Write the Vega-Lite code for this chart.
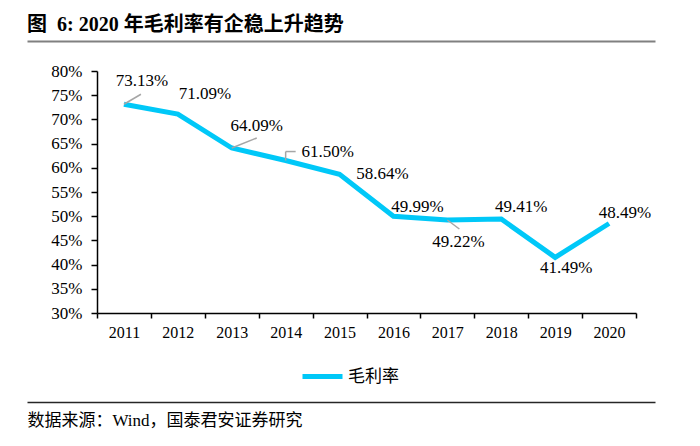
{
  "$schema": "https://vega.github.io/schema/vega-lite/v6.json",
  "padding": {"left": 27, "top": 15, "right": 5, "bottom": 5},
  "background": "white",
  "spacing": 14,
  "title": {
    "text": "图\u00a0\u00a06: 2020 年毛利率有企稳上升趋势",
    "anchor": "start",
    "frame": "bounds",
    "fontSize": 20,
    "fontWeight": "bold",
    "font": "Liberation Serif, Noto Sans CJK SC",
    "color": "#000000",
    "offset": 6
  },
  "resolve": {"scale": {"color": "independent"}, "legend": {"color": "independent"}},
  "config": {
    "font": "Liberation Serif, Noto Sans CJK SC",
    "view": {"stroke": null},
    "text": {"font": "Liberation Serif", "fontSize": 17, "color": "#000000"},
    "axis": {
      "labelFont": "Liberation Serif",
      "labelColor": "#000000",
      "domainColor": "#000000",
      "tickColor": "#000000",
      "domainWidth": 1.5,
      "tickWidth": 1.5,
      "grid": false,
      "title": null
    }
  },
  "data": {
    "values": [
      {"year": "2011", "value": 0.7313},
      {"year": "2012", "value": 0.7109},
      {"year": "2013", "value": 0.6409},
      {"year": "2014", "value": 0.6150},
      {"year": "2015", "value": 0.5864},
      {"year": "2016", "value": 0.4999},
      {"year": "2017", "value": 0.4922},
      {"year": "2018", "value": 0.4941},
      {"year": "2019", "value": 0.4149},
      {"year": "2020", "value": 0.4849}
    ]
  },
  "vconcat": [
    {
      "width": 558,
      "height": 7,
      "mark": {"type": "rule", "strokeOpacity": 0, "strokeWidth": 0},
      "encoding": {
        "x": {
          "field": "year",
          "type": "nominal",
          "scale": {"type": "band", "range": [-70, 558]},
          "axis": {"orient": "top", "labels": false, "ticks": false, "title": null, "domainColor": "#808080", "domainWidth": 2}
        }
      }
    },
    {
      "width": 539,
      "height": 242,
      "encoding": {
        "x": {
          "field": "year",
          "type": "nominal",
          "scale": {"type": "band", "paddingInner": 0, "paddingOuter": 0},
          "axis": {"labelAngle": 0, "tickBand": "extent", "tickSize": 5, "labelPadding": 6, "labelFontSize": 16}
        },
        "y": {
          "field": "value",
          "type": "quantitative",
          "scale": {"domain": [0.3, 0.8], "nice": false, "zero": false},
          "axis": {
            "values": [0.3, 0.35, 0.4, 0.45, 0.5, 0.55, 0.6, 0.65, 0.7, 0.75, 0.8],
            "format": ".0%",
            "tickSize": 6,
            "labelPadding": 9,
            "labelFontSize": 17,
            "minExtent": 70
          }
        }
      },
      "layer": [
        {
          "mark": {"type": "line", "strokeWidth": 5},
          "encoding": {
            "color": {
              "datum": "毛利率",
              "type": "nominal",
              "scale": {"range": ["#00C8F8"]},
              "legend": {
                "orient": "none",
                "legendX": 203,
                "legendY": 283,
                "title": null,
                "symbolType": "stroke",
                "symbolSize": 1600,
                "symbolStrokeWidth": 5,
                "labelFont": "Noto Sans CJK SC",
                "labelFontSize": 17,
                "labelColor": "#000000",
                "labelOffset": 3
              }
            }
          }
        },
        {"transform": [{"filter": "datum.year == '2011'"}], "mark": {"type": "rule", "color": "#A6A6A6", "strokeWidth": 1.5, "x2Offset": 17, "y2Offset": -10}, "encoding": {"x2": {"field": "year"}, "y2": {"field": "value"}}},
        {"transform": [{"filter": "datum.year == '2013'"}], "mark": {"type": "rule", "color": "#A6A6A6", "strokeWidth": 1.5, "x2Offset": 25, "y2Offset": -10}, "encoding": {"x2": {"field": "year"}, "y2": {"field": "value"}}},
        {"transform": [{"filter": "datum.year == '2014'"}], "mark": {"type": "rule", "color": "#A6A6A6", "strokeWidth": 1.5, "y2Offset": -9}, "encoding": {"x2": {"field": "year"}, "y2": {"field": "value"}}},
        {"transform": [{"filter": "datum.year == '2014'"}], "mark": {"type": "rule", "color": "#A6A6A6", "strokeWidth": 1.5, "yOffset": -9, "x2Offset": 10, "y2Offset": -9}, "encoding": {"x2": {"field": "year"}, "y2": {"field": "value"}}},
        {"transform": [{"filter": "datum.year == '2017'"}], "mark": {"type": "rule", "color": "#A6A6A6", "strokeWidth": 1.5, "x2Offset": 12, "y2Offset": 9}, "encoding": {"x2": {"field": "year"}, "y2": {"field": "value"}}},
        {"transform": [{"filter": "datum.year == '2011'"}], "mark": {"type": "text", "dx": 18, "dy": -23}, "encoding": {"text": {"field": "value", "format": ".2%"}}},
        {"transform": [{"filter": "datum.year == '2012'"}], "mark": {"type": "text", "dx": 27, "dy": -20}, "encoding": {"text": {"field": "value", "format": ".2%"}}},
        {"transform": [{"filter": "datum.year == '2013'"}], "mark": {"type": "text", "dx": 25, "dy": -22}, "encoding": {"text": {"field": "value", "format": ".2%"}}},
        {"transform": [{"filter": "datum.year == '2014'"}], "mark": {"type": "text", "dx": 42, "dy": -9}, "encoding": {"text": {"field": "value", "format": ".2%"}}},
        {"transform": [{"filter": "datum.year == '2015'"}], "mark": {"type": "text", "dx": 43, "dy": 0}, "encoding": {"text": {"field": "value", "format": ".2%"}}},
        {"transform": [{"filter": "datum.year == '2016'"}], "mark": {"type": "text", "dx": 24, "dy": -9}, "encoding": {"text": {"field": "value", "format": ".2%"}}},
        {"transform": [{"filter": "datum.year == '2017'"}], "mark": {"type": "text", "dx": 11, "dy": 22}, "encoding": {"text": {"field": "value", "format": ".2%"}}},
        {"transform": [{"filter": "datum.year == '2018'"}], "mark": {"type": "text", "dx": 20, "dy": -12}, "encoding": {"text": {"field": "value", "format": ".2%"}}},
        {"transform": [{"filter": "datum.year == '2019'"}], "mark": {"type": "text", "dx": 11, "dy": 11}, "encoding": {"text": {"field": "value", "format": ".2%"}}},
        {"transform": [{"filter": "datum.year == '2020'"}], "mark": {"type": "text", "dx": 16, "dy": -11}, "encoding": {"text": {"field": "value", "format": ".2%"}}}
      ]
    },
    {
      "width": 558,
      "height": 1,
      "mark": {"type": "rule", "strokeOpacity": 0, "strokeWidth": 0},
      "encoding": {
        "x": {
          "field": "year",
          "type": "nominal",
          "scale": {"type": "band", "range": [-70, 558]},
          "axis": {
            "orient": "bottom",
            "labels": false,
            "ticks": false,
            "domainColor": "#262626",
            "domainWidth": 1.5,
            "title": "数据来源：Wind，国泰君安证券研究",
            "titleAnchor": "start",
            "titleAlign": "left",
            "titleFont": "Liberation Serif, Noto Sans CJK SC",
            "titleFontSize": 17,
            "titleFontWeight": "normal",
            "titleColor": "#000000",
            "titlePadding": 10
          }
        }
      }
    }
  ]
}
